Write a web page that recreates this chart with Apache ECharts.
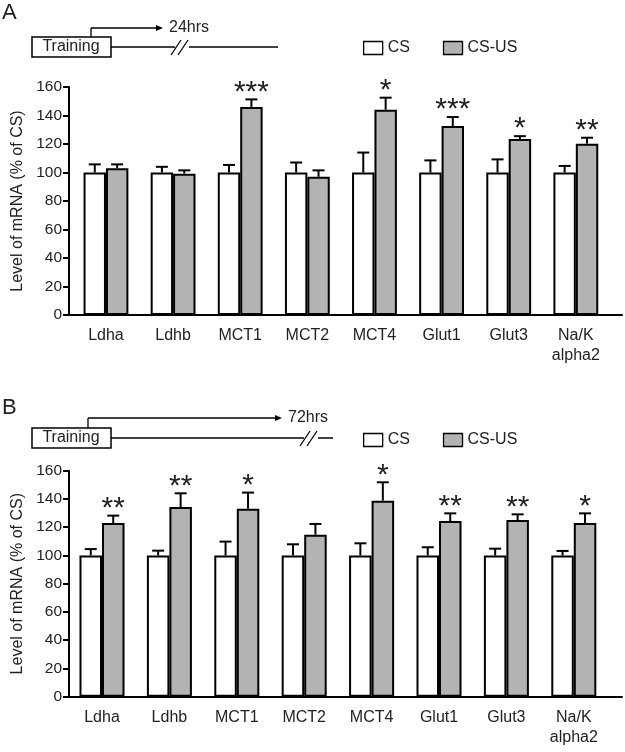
<!DOCTYPE html>
<html>
<head>
<meta charset="utf-8">
<script src="https://cdn.jsdelivr.net/npm/echarts@6/dist/echarts.min.js"></script>
<style>
html, body { margin: 0; padding: 0; background: #fff; }
#chart { width: 625px; height: 752px; }
</style>
</head>
<body>
<div id="chart"></div>
<script>
const genes = ['Ldha', 'Ldhb', 'MCT1', 'MCT2', 'MCT4', 'Glut1', 'Glut3', 'Na/K\nalpha2'];

// A: 24 hrs after training
const csA = [100, 100, 100, 100, 100, 100, 100, 100];
const csErrA = [5.7, 4, 5.3, 7, 14, 8.5, 9.2, 4.6];
const csusA = [103, 99.2, 146, 97, 144.1, 132.6, 123.5, 120.2];
const csusErrA = [2.7, 2.3, 5.3, 4.5, 8.4, 6.3, 2, 4.2];
const sigA = ['', '', '***', '', '*', '***', '*', '**'];

// B: 72 hrs after training
const csB = [100, 100, 100, 100, 100, 100, 100, 100];
const csErrB = [4.5, 3.4, 9.8, 7.9, 8.6, 5.8, 4.8, 3.2];
const csusB = [123, 134.3, 133.1, 114.7, 138.8, 124.4, 125.1, 123];
const csusErrB = [5.2, 9.7, 11.4, 7.6, 13, 5.4, 4, 6.8];
const sigB = ['**', '**', '*', '', '*', '**', '**', '*'];

const FONT = '"Liberation Sans", Arial, sans-serif';
const TXT = '#222';

const chart = echarts.init(document.getElementById('chart'));

function errRender(side, sig) {
  return function (params, api) {
    const i = api.value(0);
    const top = api.coord([i, api.value(1)]);
    const cap = api.coord([i, api.value(1) + api.value(2)]);
    const w = api.size([1, 0])[0] / 3;
    const x = top[0] + side * w / 2;
    const kids = [
      { type: 'line', shape: { x1: x, y1: top[1], x2: x, y2: cap[1] }, style: { stroke: '#000', lineWidth: 2 } },
      { type: 'line', shape: { x1: x - 6, y1: cap[1], x2: x + 6, y2: cap[1] }, style: { stroke: '#000', lineWidth: 2 } }
    ];
    const s = sig ? sig[params.dataIndex] : '';
    if (s) {
      kids.push({
        type: 'text', x: x, y: cap[1] + 8,
        style: { text: s, fill: TXT, font: '30px ' + FONT, align: 'center', verticalAlign: 'bottom' }
      });
    }
    return { type: 'group', children: kids };
  };
}

function frameX(grid) {
  return {
    gridIndex: grid, type: 'value', min: 0, max: 1,
    axisLine: { show: true, lineStyle: { color: '#000', width: 2 } },
    axisTick: { show: false }, axisLabel: { show: false }, splitLine: { show: false }
  };
}
function catX(grid) {
  return {
    gridIndex: grid, type: 'category', data: genes,
    axisLine: { show: false }, axisTick: { show: false },
    axisLabel: { color: TXT, fontSize: 16, fontFamily: FONT, margin: 11, lineHeight: 20 }
  };
}
function frameY(grid) {
  return {
    gridIndex: grid, type: 'value', min: 0, max: 160, interval: 20,
    name: 'Level of mRNA (% of CS)', nameLocation: 'middle', nameGap: 42,
    nameTextStyle: { color: TXT, fontSize: 16, fontFamily: FONT },
    axisLine: { show: true, lineStyle: { color: '#000', width: 2 } },
    axisTick: { show: true, length: 6, lineStyle: { color: '#000', width: 2 } },
    axisLabel: { color: TXT, fontSize: 15.5, fontFamily: FONT, margin: 7 },
    splitLine: { show: false }
  };
}
function hiddenY(grid) {
  return { gridIndex: grid, type: 'value', min: 0, max: 160, show: false, splitLine: { show: false } };
}

function barSeries(name, axis, vals, color) {
  return {
    name: name, type: 'bar', xAxisIndex: axis, yAxisIndex: axis, data: vals,
    barWidth: '33.4%', barGap: '0%',
    itemStyle: { color: color, borderColor: '#000', borderWidth: 2 },
    z: 2
  };
}
function errSeries(axis, vals, errs, side, sig) {
  return {
    type: 'custom', xAxisIndex: axis, yAxisIndex: axis,
    data: vals.map((v, i) => [i, v, errs[i]]),
    encode: { x: 0, y: 1 }, renderItem: errRender(side, sig), z: 3
  };
}

function timeline(letter, letterY, boxY, arrowX, arrowY, arrowEnd, label, lineEnd, breakX) {
  const midY = boxY + 10;
  const ln = (x1, y1, x2, y2) => ({
    type: 'line', shape: { x1, y1, x2, y2 }, style: { stroke: '#000', lineWidth: 1.3 }
  });
  return [
    { type: 'text', left: 2, top: letterY, style: { text: letter, font: '22px ' + FONT, fill: TXT } },
    { type: 'rect', shape: { x: 32, y: boxY, width: 79, height: 20 }, style: { fill: '#fff', stroke: '#000', lineWidth: 1.5 } },
    { type: 'text', x: 71, y: midY, style: { text: 'Training', font: '16px ' + FONT, fill: TXT, align: 'center', verticalAlign: 'middle' } },
    ln(arrowX, boxY, arrowX, arrowY),
    ln(arrowX, arrowY, arrowEnd - 5, arrowY),
    { type: 'polygon', shape: { points: [[arrowEnd, arrowY], [arrowEnd - 7, arrowY - 3], [arrowEnd - 7, arrowY + 3]] }, style: { fill: '#000' } },
    { type: 'text', x: arrowEnd + 6, y: arrowY, style: { text: label, font: '16px ' + FONT, fill: TXT, verticalAlign: 'middle' } },
    ln(111, midY, lineEnd, midY),
    { type: 'rect', shape: { x: breakX - 6, y: midY - 3, width: 14, height: 6 }, style: { fill: '#fff' } },
    ln(breakX - 10, midY + 8, breakX, midY - 7),
    ln(breakX - 3, midY + 8, breakX + 7, midY - 7)
  ];
}

const option = {
  animation: false,
  backgroundColor: '#fff',
  textStyle: { fontFamily: FONT },
  grid: [
    { left: 69, right: 3, top: 87, height: 228 },
    { left: 72.4, right: 15.6, top: 87, height: 228 },
    { left: 69, right: 3, top: 470.7, height: 226 },
    { left: 68.3, right: 17.5, top: 470.7, height: 226 }
  ],
  xAxis: [frameX(0), catX(1), frameX(2), catX(3)],
  yAxis: [frameY(0), hiddenY(1), frameY(2), hiddenY(3)],
  legend: [
    {
      data: ['CS', 'CS-US'], left: 363, top: 40, icon: 'rect', itemWidth: 19, itemHeight: 13,
      itemGap: 33, padding: 0, selectedMode: false,
      itemStyle: { borderColor: '#000', borderWidth: 1.3 },
      textStyle: { color: TXT, fontSize: 16, fontFamily: FONT }
    },
    {
      data: ['CS', 'CS-US'], left: 363, top: 432, icon: 'rect', itemWidth: 19, itemHeight: 13,
      itemGap: 33, padding: 0, selectedMode: false,
      itemStyle: { borderColor: '#000', borderWidth: 1.3 },
      textStyle: { color: TXT, fontSize: 16, fontFamily: FONT }
    }
  ],
  graphic: [
    ...timeline('A', 2, 37, 91, 28, 163, '24hrs', 278, 181),
    ...timeline('B', 397, 428, 88, 418, 282, '72hrs', 333, 310)
  ],
  series: [
    barSeries('CS', 1, csA, '#fff'),
    barSeries('CS-US', 1, csusA, '#b3b3b3'),
    errSeries(1, csA, csErrA, -1, null),
    errSeries(1, csusA, csusErrA, 1, sigA),
    barSeries('CS', 3, csB, '#fff'),
    barSeries('CS-US', 3, csusB, '#b3b3b3'),
    errSeries(3, csB, csErrB, -1, null),
    errSeries(3, csusB, csusErrB, 1, sigB)
  ]
};

chart.setOption(option);
</script>
</body>
</html>
